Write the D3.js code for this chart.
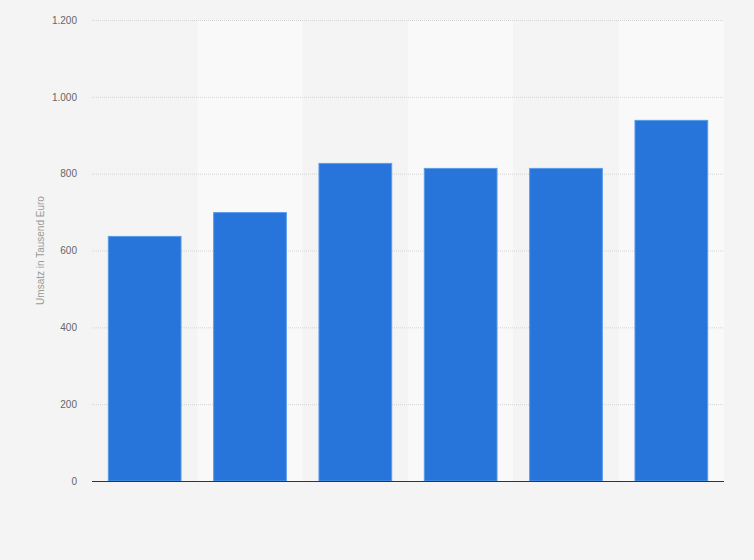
<!DOCTYPE html>
<html>
<head>
<meta charset="utf-8">
<script src="https://cdn.jsdelivr.net/npm/d3@7"></script>
<style>
  body { margin: 0; background: #f4f4f4; }
  svg { display: block; font-family: "Liberation Sans", Arial, sans-serif; }
</style>
</head>
<body>
<div id="chart"></div>
<script>
// Data (no category labels shown in the reference)
const categories = ['1', '2', '3', '4', '5', '6'];
const values = [638, 700, 828, 815, 815, 940];
const yTicks = [0, 200, 400, 600, 800, 1000, 1200];
const yLabel = 'Umsatz in Tausend Euro';

const data = categories.map((c, i) => ({ category: c, value: values[i] }));

const totalW = 754, totalH = 560;
const margin = { top: 20, right: 30, bottom: 79, left: 92 };
const width = totalW - margin.left - margin.right;
const height = totalH - margin.top - margin.bottom;

const svg = d3.select('#chart')
    .append('svg')
    .attr('width', totalW)
    .attr('height', totalH);

svg.append('rect')
    .attr('width', totalW)
    .attr('height', totalH)
    .attr('fill', '#f4f4f4');

const g = svg.append('g')
    .attr('transform', `translate(${margin.left},${margin.top})`);

const x = d3.scaleBand()
    .domain(categories)
    .range([0, width])
    .paddingInner(0.3)
    .paddingOuter(0.15);

const y = d3.scaleLinear()
    .domain([0, 1200])
    .range([height, 0]);

// alternating column stripes
const step = width / categories.length;
g.selectAll('.stripe')
    .data(categories)
    .enter()
    .append('rect')
    .attr('class', 'stripe')
    .attr('x', (d, i) => i * step)
    .attr('y', 0)
    .attr('width', step)
    .attr('height', height)
    .attr('fill', (d, i) => i % 2 ? '#f9f9f9' : '#f4f4f4');

// grid lines
g.selectAll('.grid')
    .data(yTicks.filter(d => d > 0))
    .enter()
    .append('line')
    .attr('class', 'grid')
    .attr('x1', 0)
    .attr('x2', width)
    .attr('y1', d => y(d) + 0.5)
    .attr('y2', d => y(d) + 0.5)
    .attr('stroke', '#d4d4d4')
    .attr('stroke-width', 1)
    .attr('stroke-dasharray', '1,1');

// y axis tick labels
const yAxis = g.append('g')
    .call(d3.axisLeft(y).tickValues(yTicks).tickSize(0).tickPadding(15)
        .tickFormat(d => d3.format(',')(d).replace(/,/g, '.')));
yAxis.select('.domain').remove();
yAxis.selectAll('text')
    .attr('fill', '#666')
    .style('font-size', '10px')
    .style('font-family', '"Liberation Sans", Arial, sans-serif');

// y label
svg.append('text')
    .attr('transform', 'rotate(-90)')
    .attr('x', -(margin.top + height / 2))
    .attr('y', 44)
    .attr('text-anchor', 'middle')
    .attr('fill', '#999')
    .style('font-size', '10px')
    .text(yLabel);

// bars
g.selectAll('.bar')
    .data(data)
    .enter()
    .append('rect')
    .attr('class', 'bar')
    .attr('x', d => x(d.category) + 0.5)
    .attr('y', d => y(d.value) + 0.5)
    .attr('width', x.bandwidth() - 1)
    .attr('height', d => height - y(d.value) - 0.5)
    .attr('fill', '#2775da')
    .attr('stroke', '#5b9be8')
    .attr('stroke-width', 1);

// baseline
g.append('line')
    .attr('x1', 0)
    .attr('x2', width)
    .attr('y1', height + 0.5)
    .attr('y2', height + 0.5)
    .attr('stroke', '#333')
    .attr('stroke-width', 1);
</script>
</body>
</html>
